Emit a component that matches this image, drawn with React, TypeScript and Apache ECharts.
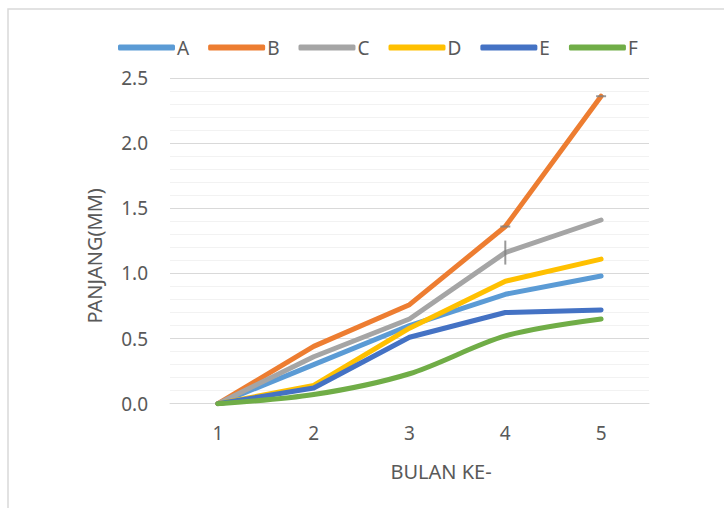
import React, { useEffect, useRef } from "react";
import * as echarts from "echarts";

const categories = ["1", "2", "3", "4", "5"];
const seriesNames = ["A", "B", "C", "D", "E", "F"];
const valuesA = [0, 0.3, 0.6, 0.84, 0.98];
const valuesB = [0, 0.44, 0.76, 1.36, 2.36];
const valuesC = [0, 0.36, 0.65, 1.16, 1.41];
const valuesD = [0, 0.14, 0.58, 0.94, 1.11];
const valuesE = [0, 0.12, 0.51, 0.7, 0.72];
const valuesF = [0, 0.07, 0.23, 0.52, 0.65];
const colors = ["#5B9BD5", "#ED7D31", "#A5A5A5", "#FFC000", "#4472C4", "#70AD47"];
const yTicks = [0, 0.5, 1.0, 1.5, 2.0, 2.5];

const FONT = "'Noto Sans', 'Open Sans', sans-serif";
const TEXT = "#595959";

export default function App() {
  const ref = useRef<HTMLDivElement>(null);
  useEffect(() => {
    if (!ref.current) return;
    const chart = echarts.init(ref.current, null, { renderer: "svg" });
    const all = [valuesA, valuesB, valuesC, valuesD, valuesE, valuesF];
    const lineSeries = all.map((vals, i) => ({
      name: seriesNames[i],
      type: "line",
      data: vals,
      symbol: "none",
      smooth: i === 5 ? 0.3 : false,
      lineStyle: { width: 5, color: colors[i], cap: "round", join: "round" },
      itemStyle: { color: colors[i] },
      z: 2 + i,
    }));
    const marks = [
      { value: [categories[3], valuesB[3]], symbolSize: [10, 2] },
      { value: [categories[4], valuesB[4]], symbolSize: [10, 2] },
      { value: [categories[3], valuesC[3]], symbolSize: [2, 24] },
    ];
    chart.setOption({
      animation: false,
      textStyle: { fontFamily: FONT },
      graphic: [
        {
          type: "rect",
          shape: { x: 8, y: 9, width: 800, height: 600 },
          style: { fill: "none", stroke: "#D9D9D9", lineWidth: 1.5 },
          silent: true,
        },
      ],
      legend: {
        data: seriesNames,
        left: 113,
        top: 33,
        icon: "roundRect",
        itemWidth: 57,
        itemHeight: 6,
        itemGap: 19,
        textStyle: { color: TEXT, fontSize: 19, fontFamily: FONT, padding: [0, 0, 0, -3] },
      },
      grid: { left: 170, right: 75, top: 78, bottom: 104.3 },
      xAxis: {
        type: "category",
        data: categories,
        boundaryGap: true,
        axisTick: { show: false },
        axisLine: { lineStyle: { color: "#D9D9D9", width: 1 } },
        axisLabel: { color: TEXT, fontSize: 19, margin: 20, fontFamily: FONT },
        name: "BULAN KE-",
        nameLocation: "middle",
        nameGap: 58,
        nameTextStyle: { color: TEXT, fontSize: 20, fontFamily: FONT, padding: [0, 0, 0, 63] },
      },
      yAxis: {
        type: "value",
        min: yTicks[0],
        max: yTicks[yTicks.length - 1],
        interval: 0.5,
        axisLine: { show: false },
        axisTick: { show: false },
        axisLabel: {
          color: TEXT,
          fontSize: 19,
          margin: 22,
          fontFamily: FONT,
          formatter: (v: number) => v.toFixed(1),
        },
        splitLine: { lineStyle: { color: "#D9D9D9", width: 1.2 } },
        minorTick: { show: false, splitNumber: 5 },
        minorSplitLine: { show: true, lineStyle: { color: "#F2F2F2", width: 1.2 } },
        name: "PANJANG(MM)",
        nameLocation: "middle",
        nameGap: 66,
        nameRotate: 90,
        nameTextStyle: { color: TEXT, fontSize: 20, fontFamily: FONT, padding: [0, 30, 0, 0] },
      },
      series: [
        ...lineSeries,
        {
          type: "scatter",
          data: marks,
          symbol: "rect",
          itemStyle: { color: "#7F7F7F" },
          silent: true,
          z: 10,
        },
      ],
    });
    return () => chart.dispose();
  }, []);
  return (
    <div
      ref={ref}
      style={{ position: "fixed", left: 0, top: 0, width: 724, height: 508, background: "#fff" }}
    />
  );
}
